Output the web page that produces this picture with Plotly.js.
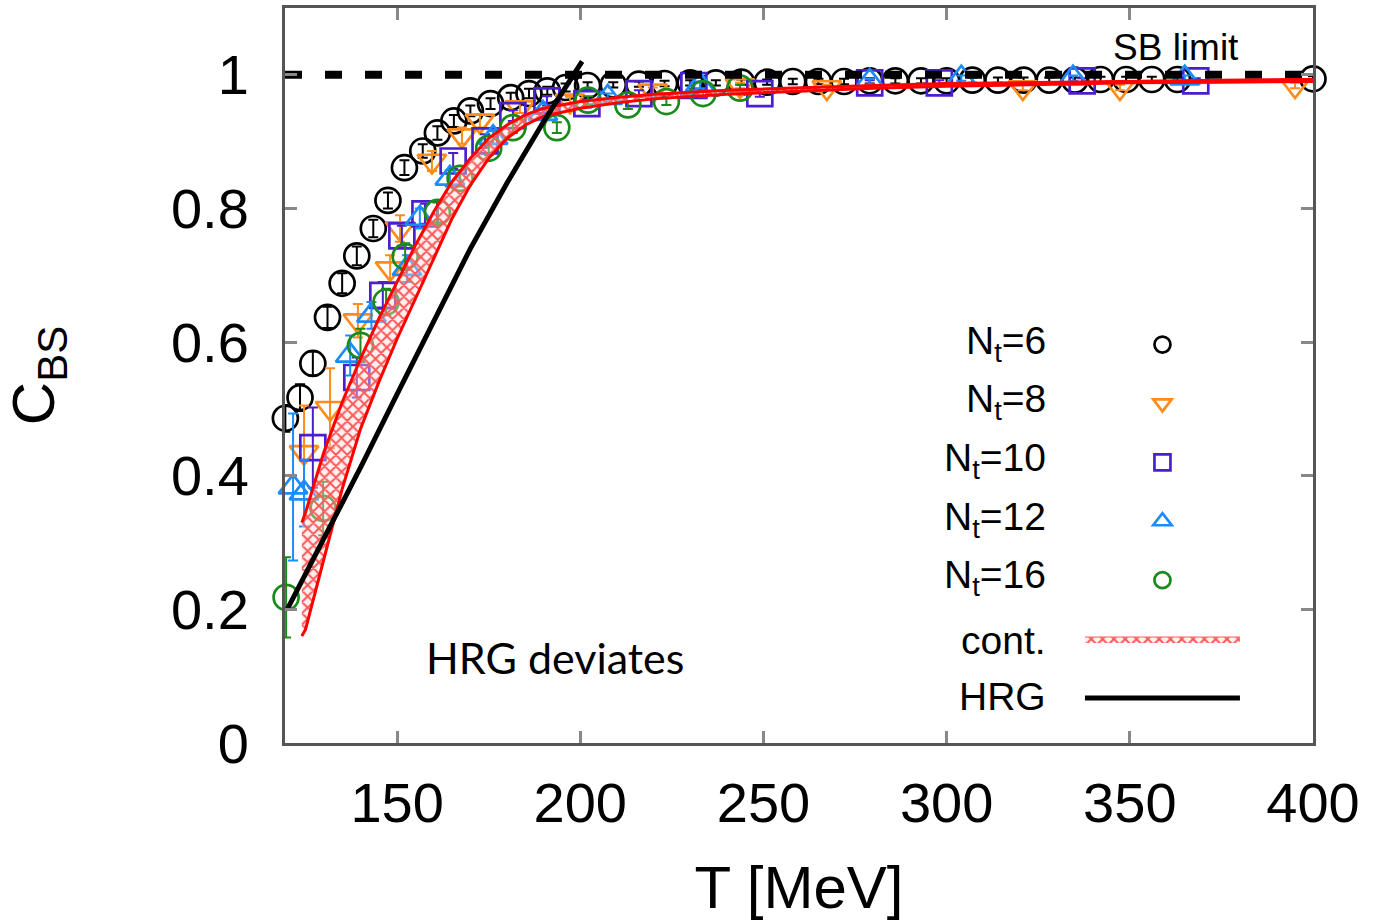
<!DOCTYPE html>
<html><head><meta charset="utf-8">
<script src="https://cdn.plot.ly/plotly-3.0.1.min.js"></script>
<style>html,body{margin:0;padding:0;background:#fff}</style>
</head><body><div id="chart" style="width:1375px;height:924px"></div>
<script>
// ---- data ----
const T_MIN = 119.4, T_MAX = 400;
const SB_LIMIT = 1;
const xTicks = [150, 200, 250, 300, 350, 400];
const yTicks = [0, 0.2, 0.4, 0.6, 0.8, 1];
const seriesNames = ['N<sub>t</sub>=6', 'N<sub>t</sub>=8', 'N<sub>t</sub>=10', 'N<sub>t</sub>=12', 'N<sub>t</sub>=16', 'cont.', 'HRG'];

const T6 = [119.5,123.5,127,131,135,139,143.5,147.5,152,157,161,165.5,170,175.5,181,186,191,196,202,209,216,223,230,237,244,251,258,265,272,279,286,293,300,307,314,321,328,335,342,349,356,363,400];
const C6 = [0.486,0.517,0.568,0.637,0.688,0.729,0.770,0.812,0.861,0.886,0.913,0.931,0.946,0.957,0.966,0.972,0.976,0.981,0.984,0.985,0.986,0.987,0.988,0.988,0.989,0.989,0.990,0.990,0.990,0.991,0.991,0.991,0.991,0.992,0.992,0.992,0.992,0.992,0.993,0.993,0.993,0.993,0.994];
const E6 = [0.02,0.02,0.018,0.016,0.015,0.014,0.013,0.012,0.011,0.01,0.01,0.009,0.008,0.008,0.007,0.007,0.006,0.006,0.005,0.004,0.004,0.004,0.004,0.004,0.004,0.004,0.004,0.004,0.004,0.004,0.004,0.004,0.004,0.004,0.004,0.004,0.004,0.004,0.004,0.004,0.004,0.004,0.004];

const T8 = [124.6,131.7,139.3,148.1,150.8,159.5,167.7,172.6,183.5,197.2,219.8,243.6,267.3,320.8,347.3,395.1];
const C8 = [0.435,0.501,0.632,0.710,0.770,0.871,0.909,0.931,0.951,0.961,0.976,0.984,0.981,0.981,0.981,0.984];
const E8 = [0.07,0.06,0.025,0.02,0.02,0.015,0.012,0.01,0.008,0.006,0.005,0.004,0.004,0.004,0.004,0.004];

const T10 = [127,139,146.1,151.3,157.6,165.3,174,181.6,190.9,201.8,216,231,249,279,298,337,368];
const C10 = [0.442,0.547,0.670,0.759,0.792,0.871,0.901,0.939,0.961,0.957,0.972,0.984,0.972,0.988,0.988,0.991,0.991];
const E10 = [0.06,0.03,0.02,0.015,0.015,0.012,0.01,0.008,0.007,0.006,0.005,0.005,0.005,0.004,0.004,0.004,0.004];

const T12 = [121.6,124.6,137.2,143,152.7,156.2,164.4,176.2,189.8,207.5,232.7,279,304,334.5,365];
const C12 = [0.383,0.374,0.580,0.64,0.71,0.785,0.845,0.906,0.942,0.966,0.985,0.99,0.995,0.995,0.995];
const E12 = [0.11,0.05,0.03,0.02,0.02,0.015,0.012,0.01,0.008,0.006,0.005,0.004,0.004,0.004,0.004];

const T16 = [119.7,129.8,140,147,152.2,161,167.2,175,181.6,193.6,202.1,213,223.5,233.5,243.6];
const C16 = [0.218,0.351,0.595,0.66,0.728,0.794,0.845,0.89,0.921,0.921,0.962,0.955,0.96,0.972,0.98];
const E16 = [0.06,0.04,0.025,0.02,0.02,0.015,0.012,0.01,0.008,0.008,0.006,0.006,0.005,0.005,0.005];

const Tcont = [124,125,130,135,140,145,150,155,160,165,170,175,180,185,190,200,210,220,240,260,280,300,325,350,375,400];
const Ccont_up = [0.33,0.345,0.435,0.51,0.575,0.635,0.69,0.745,0.795,0.84,0.875,0.905,0.925,0.94,0.95,0.96,0.966,0.971,0.977,0.981,0.984,0.987,0.989,0.991,0.992,0.993];
const Ccont_lo = [0.16,0.17,0.275,0.38,0.47,0.54,0.605,0.665,0.725,0.785,0.835,0.875,0.905,0.925,0.938,0.95,0.958,0.964,0.971,0.976,0.98,0.983,0.986,0.988,0.989,0.99];

const THRG = [120,130,140,150,160,170,180,190,200.5];
const CHRG = [0.20,0.305,0.412,0.522,0.633,0.74,0.838,0.93,1.02];

// ---- styles ----
const colors = ['#000000', '#ff8c1a', '#4a1fd0', '#1a8cff', '#1a8a1a'];
const symbols = ['circle-open', 'triangle-down-open', 'square-open', 'triangle-up-open', 'circle-open'];
const FONT = 'Liberation Sans, Arial, sans-serif';

function latt(i, T, C, E) {
  return {
    type: 'scatter', mode: 'markers', x: T, y: C, name: '', legendrank: i + 1, cliponaxis: false,
    error_y: {type: 'data', array: E, visible: true, color: colors[i], thickness: 2, width: 5},
    marker: {symbol: symbols[i], size: 25, color: colors[i], line: {width: 2.7, color: colors[i]}},
    hoverinfo: 'skip'
  };
}

const bandX = Tcont.concat(Tcont.slice().reverse());
const bandY = Ccont_up.concat(Ccont_lo.slice().reverse());

const traces = [
  latt(0, T6, C6, E6),
  latt(1, T8, C8, E8),
  latt(2, T10, C10, E10),
  latt(3, T12, C12, E12),
  latt(4, T16, C16, E16),
  {type: 'scatter', mode: 'lines', x: [T_MIN, T_MAX], y: [SB_LIMIT, SB_LIMIT], showlegend: false,
   line: {color: '#000', width: 8, dash: '17px,23px'}, hoverinfo: 'skip'},
  {type: 'scatter', mode: 'lines', x: bandX, y: bandY, fill: 'toself', name: '', legendrank: 6,
   fillcolor: 'rgba(255,255,255,0)',
   fillpattern: {shape: 'x', fgcolor: '#ff5a5a', bgcolor: 'rgba(255,220,220,0.4)', size: 8, solidity: 0.45},
   line: {color: 'rgba(255,120,120,0.8)', width: 1.5}, hoverinfo: 'skip'},
  {type: 'scatter', mode: 'lines', x: Tcont, y: Ccont_up, showlegend: false,
   line: {color: '#ff0000', width: 3}, hoverinfo: 'skip'},
  {type: 'scatter', mode: 'lines', x: Tcont, y: Ccont_lo, showlegend: false,
   line: {color: '#ff0000', width: 3}, hoverinfo: 'skip'},
  {type: 'scatter', mode: 'lines', x: THRG, y: CHRG, name: '', legendrank: 7,
   line: {color: '#000', width: 5}, hoverinfo: 'skip'}
];

const labelY = [0.598, 0.511, 0.423, 0.335, 0.247, 0.154, 0.069];
const annotations = seriesNames.map((s, i) => ({
  x: 327.6, y: labelY[i], xref: 'x', yref: 'y', text: s, showarrow: false,
  xanchor: 'right', yanchor: 'middle', font: {family: FONT, size: 39, color: '#000'}
}));
annotations.push({x: 0.867, y: 0.9456, xref: 'paper', yref: 'paper', xanchor: 'center', yanchor: 'middle',
  text: 'SB limit', showarrow: false, font: {family: FONT, size: 37, color: '#000'}});
annotations.push({x: 193.1, y: 0.1286, xref: 'x', yref: 'y', xanchor: 'center', yanchor: 'middle',
  text: 'HRG deviates', showarrow: false, font: {family: 'Lato, sans-serif', size: 43, color: '#000'}});

const axisCommon = {
  showgrid: false, zeroline: false, showline: true, linecolor: '#555', linewidth: 3,
  mirror: 'ticks', ticks: 'inside', ticklen: 12, tickwidth: 3, tickcolor: '#888',
  tickfont: {family: FONT, size: 56, color: '#000'}
};

const layout = {
  width: 1375, height: 924,
  margin: {l: 285, r: 62, t: 8, b: 181},
  paper_bgcolor: '#fff', plot_bgcolor: '#fff',
  showlegend: true,
  legend: {x: 0.7733, y: 0.589, xanchor: 'left', yanchor: 'top', bgcolor: 'rgba(0,0,0,0)',
           borderwidth: 0, font: {family: FONT, size: 43}, itemwidth: 155, traceorder: 'normal'},
  xaxis: Object.assign({}, axisCommon, {range: [T_MIN, T_MAX], tickvals: xTicks, ticklabelstandoff: 9,
    title: {text: 'T [MeV]', font: {family: FONT, size: 60, color: '#000'}, standoff: 33}}),
  yaxis: Object.assign({}, axisCommon, {range: [0, 1.1], tickvals: yTicks, ticklabelstandoff: 22,
    title: {text: 'C<sub>BS</sub>', font: {family: FONT, size: 60, color: '#000'}, standoff: 103}}),
  annotations: annotations
};

Plotly.newPlot('chart', traces, layout, {displayModeBar: false, staticPlot: true});
</script>
</body></html>
